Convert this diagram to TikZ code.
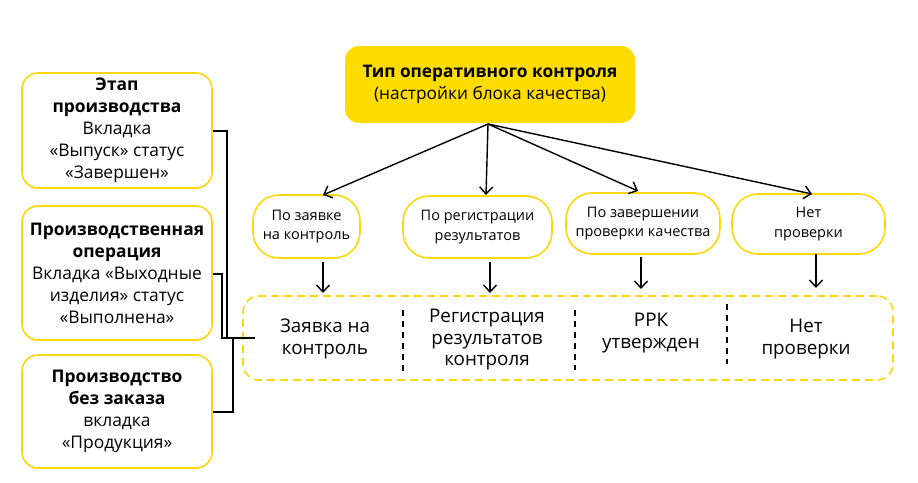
\documentclass[tikz,border=0pt]{standalone}
\usepackage{fontspec}
\setmainfont{Open Sans}
\usetikzlibrary{arrows.meta}
\definecolor{ylw}{RGB}{255,220,0}
\definecolor{ylwb}{RGB}{255,214,10}
\tikzset{
  topbox/.style={fill=ylw, draw=none, rounded corners=14pt, minimum width=290pt, minimum height=77pt, align=center, font=\fontsize{17.3}{22}\selectfont},
  oval/.style={draw=ylwb, line width=1.6pt, rounded corners=26pt, align=center, font=\fontsize{14.5}{19.5}\selectfont},
  leftbox/.style={draw=ylwb, line width=1.6pt, rounded corners=16pt, minimum width=190pt, align=center, font=\fontsize{17.4}{22}\selectfont},
  dbox/.style={draw=ylwb, line width=1.6pt, dashed, dash pattern=on 8pt off 5pt, rounded corners=16pt},
  lbl/.style={align=center, font=\fontsize{18.8}{21.5}\selectfont},
  arr/.style={-{Straight Barb[length=7pt,width=13pt]}, line width=1.4pt},
  conn/.style={line width=1.4pt},
  divider/.style={line width=1.4pt, dash pattern=on 6pt off 5pt}
}
\begin{document}
\begin{tikzpicture}[x=1pt,y=-1pt]
\useasboundingbox (0,0) rectangle (918,482);
% top
\node[topbox] (top) at (490,84.5) {\textbf{Тип оперативного контроля}\\(настройки блока качества)};
% ovals
\node[oval, minimum width=107pt, minimum height=63pt, inner sep=1pt] (o1) at (306.5,226.5) {По заявке\\на контроль};
\node[oval, minimum width=149pt, minimum height=62pt, inner sep=1pt] (o2) at (477.5,227) {По регистрации\\результатов};
\node[oval, minimum width=154pt, minimum height=61pt, inner sep=1pt] (o3) at (643,223.5) {По завершении\\проверки качества};
\node[oval, minimum width=153pt, minimum height=60pt, inner sep=1pt] (o4) at (808.5,224) {Нет\\проверки};
\coordinate (src) at (488,124);
\draw[arr] (src) -- (323,195);
\draw[arr] (src) -- (486,195);
\draw[arr] (src) -- (638,191);
\draw[arr] (src) -- (812,194);
% dashed box
\node[dbox, minimum width=650pt, minimum height=84pt] (db) at (568,338) {};
\draw[arr] (323,262) -- (323,293);
\draw[arr] (490,262) -- (490,293);
\draw[arr] (641,257) -- (641,289);
\draw[arr] (816,254) -- (816,288);
\draw[divider] (403,310) -- (403,372);
\draw[divider] (575,310) -- (575,370);
\draw[divider] (727,304) -- (727,364);
\node[lbl] (t1) at (325,339) {Заявка на\\контроль};
\node[lbl] (t2) at (487,340) {Регистрация\\результатов\\контроля};
\node[lbl] (t3) at (651,333) {РРК\\утвержден};
\node[lbl] (t4) at (806,339) {Нет\\проверки};
% left boxes
\node[leftbox, minimum height=115pt, inner sep=1pt] (l1) at (117,130.5) {\textbf{Этап}\\\textbf{производства}\\Вкладка\\«Выпуск» статус\\«Завершен»};
\node[leftbox, minimum height=134pt, inner sep=1pt] (l2) at (117,273) {\textbf{Производственная}\\\textbf{операция}\\Вкладка «Выходные\\изделия» статус\\«Выполнена»};
\node[leftbox, minimum height=113pt, inner sep=1pt] (l3) at (117,411.5) {\textbf{Производство}\\\textbf{без заказа}\\вкладка\\«Продукция»};
\coordinate (j) at (255,338);
\draw[conn] (l1.east |- 0,131) -- (227,131) -- (227,338) -- (j);
\draw[conn] (l2.east |- 0,274) -- (222,274) -- (222,338) -- (j);
\draw[conn] (l3.east |- 0,412) -- (233,412) -- (233,338);
\end{tikzpicture}
\end{document}
